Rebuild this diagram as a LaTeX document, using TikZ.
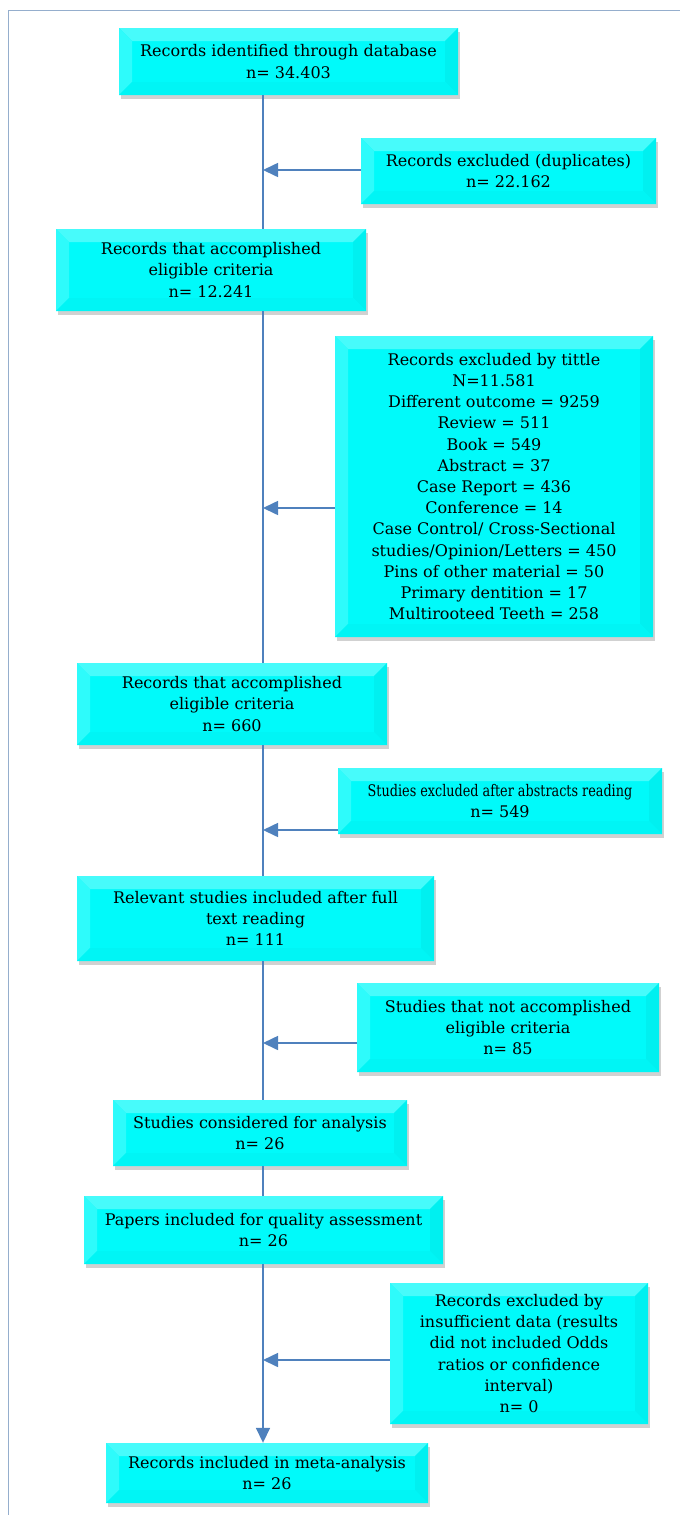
\documentclass[tikz,border=0pt]{standalone}
\usepackage{fontspec}
\setmainfont{DejaVu Serif}
\usetikzlibrary{positioning}
\usetikzlibrary{arrows.meta,shadows}
\definecolor{flowblue}{HTML}{4F81BD}
\definecolor{framegray}{HTML}{95AECD}
\definecolor{boxcyan}{HTML}{00FAFA}
\newcommand{\bevw}{13pt}

\begin{document}
\begin{tikzpicture}[x=1pt,y=-1pt,
bevel/.style = {path picture = {
  \fill[boxcyan!72!white] (path picture bounding box.north west) -- (path picture bounding box.north east) -- ([xshift=-\bevw,yshift=-\bevw]path picture bounding box.north east) -- ([xshift=\bevw,yshift=-\bevw]path picture bounding box.north west) -- cycle;
  \fill[boxcyan!82!white] (path picture bounding box.north west) -- ([xshift=\bevw,yshift=-\bevw]path picture bounding box.north west) -- ([xshift=\bevw,yshift=\bevw]path picture bounding box.south west) -- (path picture bounding box.south west) -- cycle;
  \fill[boxcyan!96!black] (path picture bounding box.north east) -- ([xshift=-\bevw,yshift=-\bevw]path picture bounding box.north east) -- ([xshift=-\bevw,yshift=\bevw]path picture bounding box.south east) -- (path picture bounding box.south east) -- cycle;
  \fill[boxcyan!98!black] (path picture bounding box.south west) -- ([xshift=\bevw,yshift=\bevw]path picture bounding box.south west) -- ([xshift=-\bevw,yshift=\bevw]path picture bounding box.south east) -- (path picture bounding box.south east) -- cycle;
}},
stage/.style = {shape = rectangle, fill = boxcyan, bevel, inner sep = 0pt, align = center, font = \fontsize{16}{21.2}\selectfont, drop shadow = {shadow xshift = 2pt, shadow yshift = -4pt, opacity = 0.3, fill = black!60}},
flow/.style = {draw = flowblue, line width = 1.6pt},
exarrow/.style = {flow, -{Triangle[length = 15pt, width = 14pt]}},
]
\useasboundingbox (0,0) rectangle (680,1515);
% page frame
\draw[framegray, line width = 1pt] (8,1515) -- (8,10) -- (680,10);
\coordinate (spine) at (263,0);

% main column
\node[stage, minimum width = 339pt, minimum height = 67pt] (b1) at (288.5,61.5) {Records identified through database\\n= 34.403};
\node[stage, minimum width = 310pt, minimum height = 82pt] (b3) at (211,270) {Records that accomplished\\eligible criteria\\n= 12.241};
\node[stage, minimum width = 310pt, minimum height = 82pt] (b5) at (232,704) {Records that accomplished\\eligible criteria\\n= 660};
\node[stage, minimum width = 357pt, minimum height = 85pt] (b7) at (255.5,918.5) {Relevant studies included after full\\text reading\\n= 111};
\node[stage, minimum width = 294pt, minimum height = 66pt] (b9) at (260,1133) {Studies considered for analysis\\n= 26};
\node[stage, minimum width = 359pt, minimum height = 68pt] (b10) at (263.5,1230) {Papers included for quality assessment\\n= 26};
\node[stage, minimum width = 322pt, minimum height = 60pt] (b12) at (267,1473) {Records included in meta-analysis\\n= 26};

% exclusions
\node[stage, minimum width = 295pt, minimum height = 66pt] (b2) at (508.5,171) {Records excluded (duplicates)\\n= 22.162};
\node[stage, minimum width = 318pt, minimum height = 301pt] (b4) at (494,486.5) {Records excluded by tittle\\N=11.581\\Different outcome = 9259\\Review = 511\\Book = 549\\Abstract = 37\\Case Report = 436\\Conference = 14\\Case Control/ Cross-Sectional\\studies/Opinion/Letters = 450\\Pins of other material = 50\\Primary dentition = 17\\Multirooteed Teeth = 258};
\node[stage, minimum width = 324pt, minimum height = 66pt] (b6) at (500,801) {\scalebox{0.8}[1]{Studies excluded after abstracts reading}\\n= 549};
\node[stage, minimum width = 302pt, minimum height = 89pt] (b8) at (508,1027.5) {Studies that not accomplished\\eligible criteria\\n= 85};
\node[stage, minimum width = 258pt, minimum height = 141pt] (b11) at (519,1353.5) {Records excluded by\\insufficient data (results\\did not included Odds\\ratios or confidence\\interval)\\n= 0};

% spine
\draw[flow] (b1.south -| spine) -- (b3.north -| spine);
\draw[flow] (b3.south -| spine) -- (b5.north -| spine);
\draw[flow] (b5.south -| spine) -- (b7.north -| spine);
\draw[flow] (b7.south -| spine) -- (b9.north -| spine);
\draw[flow] (b9.south -| spine) -- (b10.north -| spine);
\draw[exarrow] (b10.south -| spine) -- (b12.north -| spine);

\draw[exarrow] ([yshift = 1pt]b2.west) -- ([yshift = 1pt]b2.west -| spine);
\draw[exarrow] ([yshift = -21.5pt]b4.west) -- ([yshift = -21.5pt]b4.west -| spine);
\draw[exarrow] ([yshift = -29pt]b6.west) -- ([yshift = -29pt]b6.west -| spine);
\draw[exarrow] ([yshift = -15.5pt]b8.west) -- ([yshift = -15.5pt]b8.west -| spine);
\draw[exarrow] ([yshift = -6.5pt]b11.west) -- ([yshift = -6.5pt]b11.west -| spine);
\end{tikzpicture}
\end{document}
